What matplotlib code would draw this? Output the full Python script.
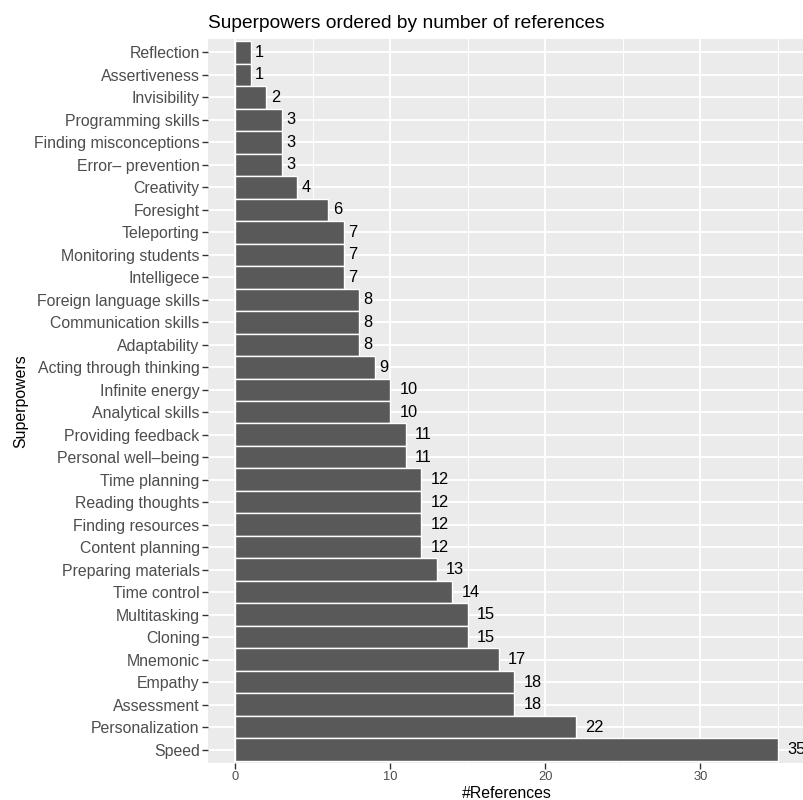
import matplotlib
matplotlib.use("Agg")
import matplotlib.pyplot as plt
from matplotlib.ticker import MultipleLocator

plt.rcParams['font.family'] = ['Liberation Sans', 'DejaVu Sans']

# top to bottom as in the chart
powers = ["Reflection", "Assertiveness", "Invisibility", "Programming skills",
          "Finding misconceptions", "Error\u2013 prevention", "Creativity", "Foresight",
          "Teleporting", "Monitoring students", "Intelligece", "Foreign language skills",
          "Communication skills", "Adaptability", "Acting through thinking",
          "Infinite energy", "Analytical skills", "Providing feedback",
          "Personal well\u2013being", "Time planning", "Reading thoughts",
          "Finding resources", "Content planning", "Preparing materials",
          "Time control", "Multitasking", "Cloning", "Mnemonic", "Empathy",
          "Assessment", "Personalization", "Speed"]
refs = [1, 1, 2, 3, 3, 3, 4, 6, 7, 7, 7, 8, 8, 8, 9, 10, 10, 11, 11, 12, 12, 12, 12,
        13, 14, 15, 15, 17, 18, 18, 22, 35]

n = len(powers)
ypos = [n - i for i in range(n)]

fig = plt.figure(figsize=(8.04, 8.0), dpi=100)
ax = fig.add_axes([208 / 804, 37 / 800, 597 / 804, 724 / 800])
ax.set_facecolor("#EBEBEB")

ax.barh(ypos, refs, height=1.0, color="#595959", edgecolor="white", linewidth=1.0, zorder=3)

fs_val = 11.8
for y, v in zip(ypos, refs):
    lab = str(v)
    off = 0.5 * len(lab) * 0.556 * fs_val
    ax.annotate(lab, (v, y), xytext=(off, 0), textcoords="offset points",
                ha="left", va="center", fontsize=fs_val, color="black", zorder=4,
                annotation_clip=False)

ax.set_xlim(-1.75, 36.75)
ax.set_ylim(0.4, n + 0.6)
ax.xaxis.set_major_locator(MultipleLocator(10))
ax.xaxis.set_minor_locator(MultipleLocator(5))
ax.set_yticks(ypos)
ax.set_yticklabels(powers)

ax.grid(which="major", color="white", linewidth=1.4, zorder=1)
ax.grid(which="minor", axis="x", color="white", linewidth=0.7, zorder=1)
ax.set_axisbelow(True)
for s in ax.spines.values():
    s.set_visible(False)

ax.tick_params(axis="x", which="major", length=4, width=1.0, color="#333333",
               labelsize=9.3, labelcolor="#4D4D4D", pad=2)
ax.tick_params(axis="y", which="major", length=4, width=1.0, color="#333333",
               labelsize=11.4, labelcolor="#4D4D4D", pad=2)
ax.tick_params(which="minor", length=0)

ax.set_xlabel("#References", fontsize=11.4, labelpad=2)
ax.set_ylabel("Superpowers", fontsize=11.4, labelpad=4)
ax.set_title("Superpowers ordered by number of references", fontsize=13.8,
             loc="left", pad=8)

fig.savefig("out.png", dpi=100)
